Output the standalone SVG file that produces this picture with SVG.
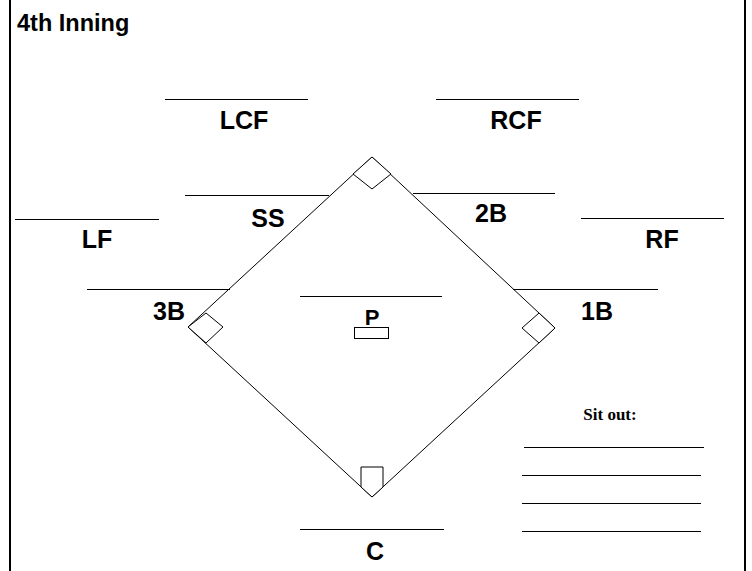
<svg xmlns="http://www.w3.org/2000/svg" width="752" height="571" viewBox="0 0 752 571">
<style>
.lbl{font-family:"Liberation Sans",Arial,sans-serif;font-weight:bold;font-size:25px;fill:#000;text-anchor:middle}
.ln{stroke:#000;stroke-width:1;fill:none}
.sh{stroke:#000;stroke-width:1;fill:#fff}
</style>
<rect width="752" height="571" fill="#fff"/>
<line x1="10" y1="0" x2="10" y2="571" stroke="#000" stroke-width="2"/>
<line x1="745" y1="0" x2="745" y2="571" stroke="#000" stroke-width="2"/>
<text x="17" y="31" font-family="Liberation Sans,Arial,sans-serif" font-weight="bold" font-size="23.5" fill="#000">4th Inning</text>
<g id="connectors">
<polygon class="ln" points="372,157 555,328 372,497 188,327"/>
</g>
<g id="bases">
<polygon class="sh" points="372,157 353,174 372,189 391,174"/>
<polygon class="sh" points="188,327 206,313 223,327 206,343"/>
<polygon class="sh" points="555,328 539,313 522,328 539,343"/>
<polygon class="sh" points="361,467 383,467 383,487 372,497 361,487"/>
<rect class="sh" x="354.5" y="327.5" width="34" height="11"/>
</g>
<g id="LCF"><line class="ln" x1="165" y1="99.5" x2="308" y2="99.5"/><text class="lbl" x="244" y="129">LCF</text></g>
<g id="RCF"><line class="ln" x1="436" y1="99.5" x2="579" y2="99.5"/><text class="lbl" x="516" y="129">RCF</text></g>
<g id="SS"><line class="ln" x1="185" y1="195.5" x2="329" y2="195.5"/><text class="lbl" x="268" y="227">SS</text></g>
<g id="2B"><line class="ln" x1="413" y1="193.5" x2="555" y2="193.5"/><text class="lbl" x="491" y="222">2B</text></g>
<g id="LF"><line class="ln" x1="15" y1="219.5" x2="159" y2="219.5"/><text class="lbl" x="97" y="248">LF</text></g>
<g id="RF"><line class="ln" x1="581" y1="218.5" x2="724" y2="218.5"/><text class="lbl" x="662" y="248">RF</text></g>
<g id="3B"><line class="ln" x1="87" y1="289.5" x2="230" y2="289.5"/><text class="lbl" x="169" y="320">3B</text></g>
<g id="1B"><line class="ln" x1="513" y1="289.5" x2="658" y2="289.5"/><text class="lbl" x="597" y="320">1B</text></g>
<g id="P"><line class="ln" x1="300" y1="296.5" x2="442" y2="296.5"/><text class="lbl" x="372" y="325" style="font-size:22px">P</text></g>
<g id="C"><line class="ln" x1="300" y1="529.5" x2="444" y2="529.5"/><text class="lbl" x="375" y="560">C</text></g>
<g id="sitout">
<text x="610" y="420" font-family="Liberation Serif,Times New Roman,serif" font-weight="bold" font-size="17" text-anchor="middle" fill="#000">Sit out:</text>
<line class="ln" x1="524" y1="447.5" x2="704" y2="447.5"/>
<line class="ln" x1="522" y1="475.5" x2="701" y2="475.5"/>
<line class="ln" x1="522" y1="503.5" x2="701" y2="503.5"/>
<line class="ln" x1="522" y1="531.5" x2="701" y2="531.5"/>
</g>
</svg>
